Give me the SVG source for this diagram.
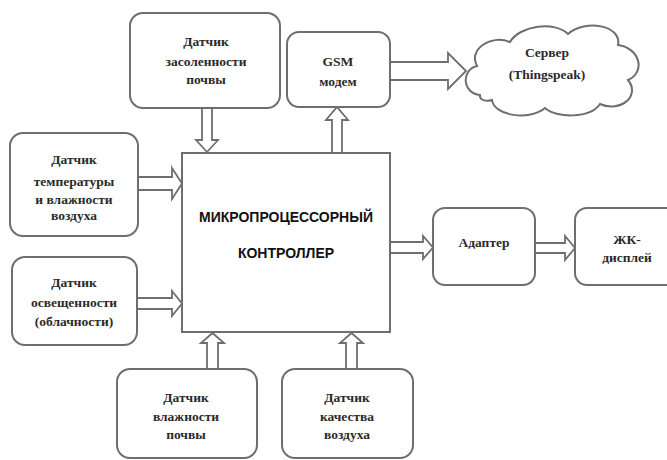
<svg xmlns="http://www.w3.org/2000/svg" width="667" height="460" viewBox="0 0 667 460">
<style>
.box{fill:#fff;stroke:#6e6e6e;stroke-width:2}
.arr{fill:#fff;stroke:#6e6e6e;stroke-width:1.8;stroke-linejoin:miter}
.t{font-family:"Liberation Serif","Times New Roman",serif;font-size:13.5px;font-weight:bold;fill:#2a2a2a;text-anchor:middle}
.b{font-family:"Liberation Sans",Arial,sans-serif;font-size:14px;font-weight:bold;fill:#111;text-anchor:middle}
</style>
<rect width="667" height="460" fill="#fff"/>
<g id="connectors">
<polygon class="arr" points="202,108 212,108 212,140 218,140 207,152 196,140 202,140"/>
<polygon class="arr" points="138,177 172,177 172,168 182,183.5 172,199 172,190 138,190"/>
<polygon class="arr" points="137,298 172,298 172,291 182,303.5 172,316 172,309 137,309"/>
<polygon class="arr" points="207,369 207,343 201,343 212.5,333 224,343 218,343 218,369"/>
<polygon class="arr" points="346,369 346,343 340,343 351.5,333 363,343 357,343 357,369"/>
<polygon class="arr" points="332,153 332,120 326,120 337,107 348,120 342,120 342,153"/>
<polygon class="arr" points="390,62 448,62 448,53 466,71 448,89 448,80 390,80"/>
<polygon class="arr" points="390,242 423,242 423,236 433,247.5 423,259 423,253 390,253"/>
<polygon class="arr" points="535,243 565,243 565,236 575,248 565,260 565,253 535,253"/>
</g>
<g id="controller">
<rect class="box" x="182" y="153" width="208" height="179"/>
<text class="b" x="286" y="222">МИКРОПРОЦЕССОРНЫЙ</text>
<text class="b" x="286" y="258">КОНТРОЛЛЕР</text>
</g>
<g id="salinity">
<rect class="box" x="130" y="13" width="150" height="95" rx="13"/>
<text class="t" x="206" y="46">Датчик</text>
<text class="t" x="206" y="66">засоленности</text>
<text class="t" x="206" y="84">почвы</text>
</g>
<g id="gsm">
<rect class="box" x="287" y="32" width="103" height="75" rx="12"/>
<text class="t" x="338" y="66">GSM</text>
<text class="t" x="338" y="86">модем</text>
</g>
<g id="server">
<path class="box" d="M480,95 C462,93 461,70 477,66 C468,50 490,34 510,42 C520,25 555,21 568,34 C585,19 622,25 618,45 C640,48 646,72 628,80 C641,96 620,113 600,104 C590,119 556,118 545,108 C530,121 494,116 492,100 C486,102 479,100 480,95 Z"/>
<text class="t" x="547" y="57">Сервер</text>
<text class="t" x="547" y="79">(Thingspeak)</text>
</g>
<g id="temp">
<rect class="box" x="10" y="133" width="128" height="103" rx="13"/>
<text class="t" x="74" y="164">Датчик</text>
<text class="t" x="74" y="186">температуры</text>
<text class="t" x="74" y="204">и влажности</text>
<text class="t" x="74" y="220">воздуха</text>
</g>
<g id="light">
<rect class="box" x="12" y="257" width="125" height="88" rx="13"/>
<text class="t" x="74" y="287">Датчик</text>
<text class="t" x="74" y="307">освещенности</text>
<text class="t" x="74" y="326">(облачности)</text>
</g>
<g id="soil">
<rect class="box" x="117" y="369" width="140" height="89" rx="13"/>
<text class="t" x="186" y="402">Датчик</text>
<text class="t" x="186" y="421">влажности</text>
<text class="t" x="186" y="439">почвы</text>
</g>
<g id="air">
<rect class="box" x="282" y="369" width="131" height="89" rx="13"/>
<text class="t" x="347" y="402">Датчик</text>
<text class="t" x="347" y="421">качества</text>
<text class="t" x="347" y="439">воздуха</text>
</g>
<g id="adapter">
<rect class="box" x="433" y="208" width="102" height="77" rx="12"/>
<text class="t" x="484" y="247">Адаптер</text>
</g>
<g id="lcd">
<rect class="box" x="575" y="208" width="110" height="77" rx="12"/>
<text class="t" x="627" y="244">ЖК-</text>
<text class="t" x="627" y="262">дисплей</text>
</g>
</svg>
